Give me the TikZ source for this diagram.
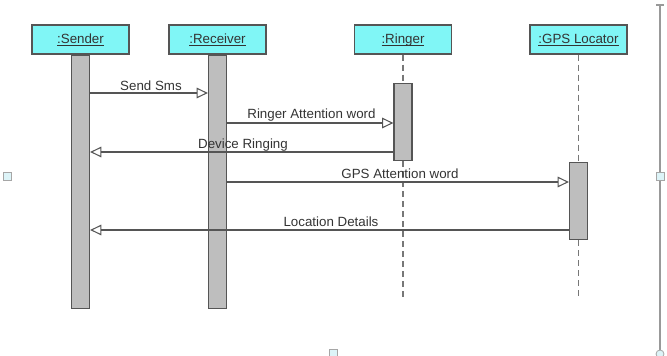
\documentclass[tikz,border=0pt]{standalone}
\usepackage{fontspec}
\setmainfont{Liberation Sans}
\usetikzlibrary{arrows.meta}
\definecolor{boxfill}{HTML}{80F6F6}
\definecolor{barfill}{HTML}{BEBEBE}
\definecolor{edge}{HTML}{555555}
\definecolor{txt}{HTML}{333333}
\definecolor{handle}{HTML}{DDF4F8}
\newcommand\objname[1]{\underline{\smash{#1}}}
\begin{document}
\begin{tikzpicture}[x=0.75pt,y=-0.75pt,
  objbox/.style={draw=edge,line width=0.9pt,fill=boxfill,minimum width=72.75pt,minimum height=21.75pt,inner sep=0pt,text height=7.5pt,text depth=1.5pt,font=\fontsize{10}{12}\selectfont,text=txt},
  actbar/.style={draw=edge,line width=0.9pt,fill=barfill,minimum width=13.5pt,inner sep=0pt},
  lifeline/.style={draw=edge!80,line width=1pt,dash pattern=on 4.5pt off 3pt},
  msg/.style={draw=edge,line width=0.8pt,-{Triangle[open,length=8.5pt,width=8pt]}},
  msglabel/.style={font=\fontsize{10}{12}\selectfont,text=txt,inner sep=0pt},
  handlebox/.style={draw=gray!70,fill=handle,line width=0.6pt,minimum size=6pt,inner sep=0pt}]
\useasboundingbox (0,0) rectangle (667,356);
\clip (0,0) rectangle (667,356);
% objects
\node[objbox] (sender) at (80.5,39.5) {\objname{:Sender}};
\node[objbox] (receiver) at (217.5,39.5) {\objname{:Receiver}};
\node[objbox] (ringer) at (403,39.5) {\objname{:Ringer}};
\node[objbox] (gps) at (578.5,39.5) {\objname{:GPS Locator}};
% lifeline ends
\coordinate (ringerend) at (403,297);
\coordinate (gpsend) at (578.5,297);
% activation bars
\node[actbar,minimum height=189.75pt,anchor=north] (sbar) at (sender.south) {};
\node[actbar,minimum height=189.75pt,anchor=north] (rbar) at (receiver.south) {};
\node[actbar,minimum height=57.75pt,anchor=north] (ribar) at (403,83) {};
\node[actbar,minimum height=57.75pt,anchor=north] (gbar) at (578.5,162) {};
% dashed lifelines
\draw[lifeline] (ringer.south) -- (ribar.north);
\draw[lifeline] (ribar.south) -- (ringerend);
\draw[lifeline] (gps.south) -- (gbar.north);
\draw[lifeline] (gbar.south) -- (gpsend);
% message levels
\coordinate (y1) at (0,93);
\coordinate (y2) at (0,123);
\coordinate (y3) at (0,152);
\coordinate (y4) at (0,182);
\coordinate (y5) at (0,230);
% messages
\draw[msg] (sbar.east |- y1) -- (rbar.west |- y1);
\node[msglabel] (l1) at (151,86) {Send Sms};
\draw[msg] (rbar.east |- y2) -- (ribar.west |- y2);
\node[msglabel] (l2) at (311.5,115.5) {Ringer Attention word};
\draw[msg] (ribar.west |- y3) -- (sbar.east |- y3);
\node[msglabel] (l3) at (243,145) {Device Ringing};
\draw[msg] (rbar.east |- y4) -- (gbar.west |- y4);
\node[msglabel] (l4) at (400,173.5) {GPS Attention word};
\draw[msg] (gbar.west |- y5) -- (sbar.east |- y5);
\node[msglabel] (l5) at (331,222) {Location Details};
% selection frame handles
\coordinate (ftop) at (660,5);
\coordinate (fbot) at (660,352);
\draw[gray!80,line width=0.8pt] (ftop) -- (fbot);
\draw[gray!80,line width=0.8pt] (656,5) -- (664,5);
\node[handlebox] (hr) at (660,176) {};
\node[handlebox] (hl) at (7,176) {};
\node[handlebox] (hb) at (333,353) {};
\node[handlebox,circle] (hbr) at (660,354) {};
\end{tikzpicture}
\end{document}
